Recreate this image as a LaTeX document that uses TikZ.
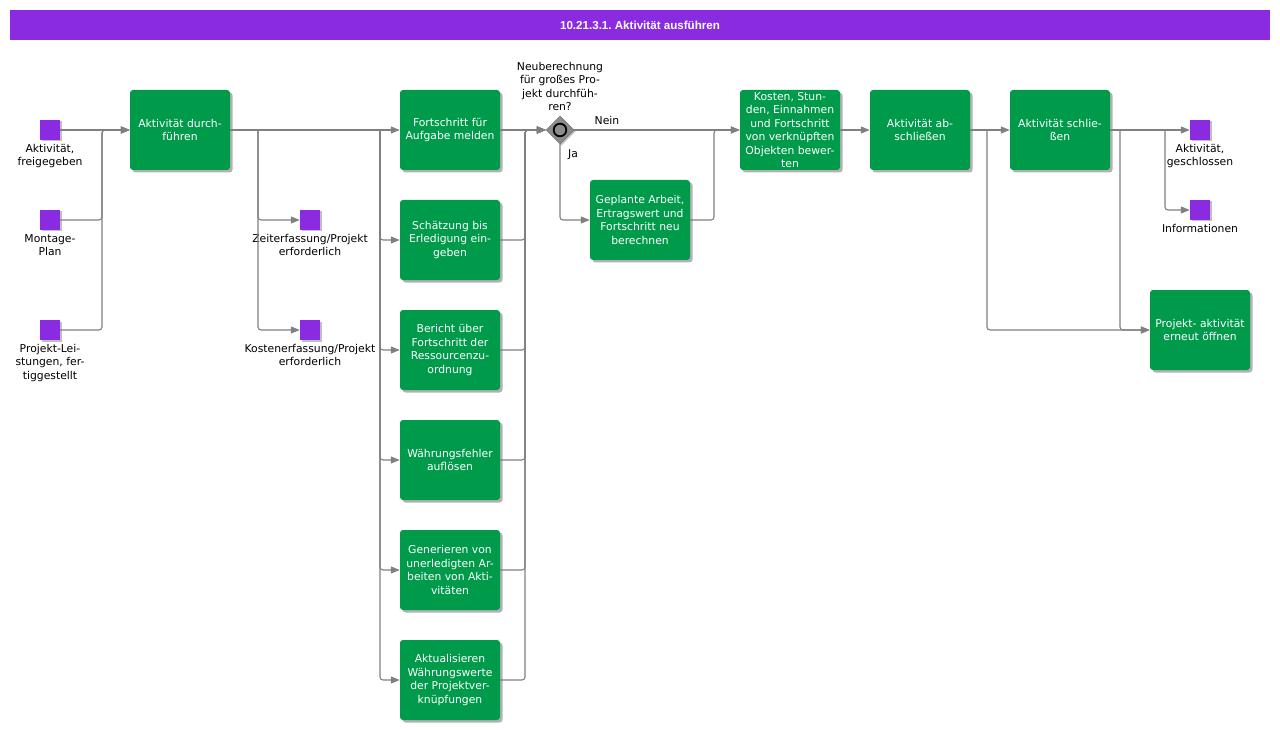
\documentclass[tikz,border=0pt]{standalone}
\usepackage{fontspec}
\setmainfont{DejaVu Sans}
\newfontfamily\titlefont{Liberation Sans}
\usetikzlibrary{arrows.meta,shadows,shapes.geometric}
\definecolor{tgreen}{HTML}{009A4B}
\definecolor{evpurple}{HTML}{8A2BE2}
\definecolor{lgray}{HTML}{808080}
\definecolor{gwgray}{HTML}{8C8C8C}
\frenchspacing
\begin{document}
\begin{tikzpicture}[x=1pt,y=-1pt,
  txt/.style={font=\fontsize{10.8}{13.5}\selectfont},
  task/.style={rectangle, rounded corners=3pt, fill=tgreen, text=white, minimum width=100pt, minimum height=80pt, inner sep=1pt, align=center, txt,
    drop shadow={shadow xshift=2.5pt,shadow yshift=-2.5pt,opacity=0.3,fill=black}},
  evt/.style={rectangle, fill=evpurple, minimum size=20pt, inner sep=0pt,
    drop shadow={shadow xshift=1.5pt,shadow yshift=-1.5pt,opacity=0.25,fill=black}},
  lbl/.style={txt, align=center, inner sep=0pt, text=black},
  flow/.style={draw=lgray, line width=1.1pt, rounded corners=3pt, -{Triangle[length=9pt,width=7pt]}},
]
\useasboundingbox (0,0) rectangle (1280,730);
% title
\node[fill=evpurple, minimum width=1260pt, minimum height=30pt, inner sep=0pt, text=white,
  font=\titlefont\bfseries\fontsize{11.6}{13}\selectfont] (title) at (640,25) {10.21.3.1. Aktivität ausführen};

% events
\node[evt] (e1) at (50,130) {};
\node[evt] (e2) at (50,220) {};
\node[evt] (e3) at (50,330) {};
\node[evt] (z1) at (310,220) {};
\node[evt] (z2) at (310,330) {};
\node[evt] (x1) at (1200,130) {};
\node[evt] (x2) at (1200,210) {};
\node[lbl, anchor=north] (le1) at (50,144) {Aktivität,\\freigegeben};
\node[lbl, anchor=north] (le2) at (50,234) {Montage-\\Plan};
\node[lbl, anchor=north] (le3) at (50,344) {Projekt-Lei-\\stungen, fer-\\tiggestellt};
\node[lbl, anchor=north] (lz1) at (310,234) {Zeiterfassung/Projekt\\erforderlich};
\node[lbl, anchor=north] (lz2) at (310,344) {Kostenerfassung/Projekt\\erforderlich};
\node[lbl, anchor=north] (lx1) at (1200,144) {Aktivität,\\geschlossen};
\node[lbl, anchor=north] (lx2) at (1200,224) {Informationen};

% tasks
\node[task] (a1) at (180,130) {Aktivität durch-\\führen};
\node[task] (f1) at (450,130) {Fortschritt für\\Aufgabe melden};
\node[task] (f2) at (450,240) {Schätzung bis\\Erledigung ein-\\geben};
\node[task] (f3) at (450,350) {Bericht über\\Fortschritt der\\Ressourcenzu-\\ordnung};
\node[task] (f4) at (450,460) {Währungsfehler\\auflösen};
\node[task] (f5) at (450,570) {Generieren von\\unerledigten Ar-\\beiten von Akti-\\vitäten};
\node[task] (f6) at (450,680) {Aktualisieren\\Währungswerte\\der Projektver-\\knüpfungen};
\node[task] (g1) at (640,220) {Geplante Arbeit,\\Ertragswert und\\Fortschritt neu\\berechnen};
\node[task] (k1) at (790,130) {Kosten, Stun-\\den, Einnahmen\\und Fortschritt\\von verknüpften\\Objekten bewer-\\ten};
\node[task] (ab) at (920,130) {Aktivität ab-\\schließen};
\node[task] (sc) at (1060,130) {Aktivität schlie-\\ßen};
\node[task] (ro) at (1200,330) {Projekt- aktivität\\erneut öffnen};

% gateway
\node[diamond, aspect=1, fill=gwgray, draw=gwgray!80!black, line width=0.5pt, minimum width=28pt, minimum height=28pt, inner sep=0pt,
  drop shadow={shadow xshift=1.5pt,shadow yshift=-1.5pt,opacity=0.25,fill=black}] (gw) at (560,130) {};
\draw[line width=1.8pt, fill=gwgray] (gw.center) circle (6.3);
\node[lbl, anchor=south] (lgw) at (560,111) {Neuberechnung\\für großes Pro-\\jekt durchfüh-\\ren?};

% junction coordinates
\coordinate (j1) at (102,130);
\coordinate (b1) at (258,130);
\coordinate (b2) at (380,130);
\coordinate (m1) at (525,130);
\coordinate (m2) at (714,130);
\coordinate (m3) at (987,130);
\coordinate (m4) at (1120,130);
\coordinate (m5) at (1165,130);

% connectors
\draw[flow] (e1.east) -- (a1.west);
\draw[flow] (e2.east) -| (j1) -- (a1.west);
\draw[flow] (e3.east) -| (j1) -- (a1.west);
\draw[flow] (a1.east) -- (f1.west);
\draw[flow] (b1) |- (z1.west);
\draw[flow] (b1) |- (z2.west);
\draw[flow] (b2) |- (f2.west);
\draw[flow] (b2) |- (f3.west);
\draw[flow] (b2) |- (f4.west);
\draw[flow] (b2) |- (f5.west);
\draw[flow] (b2) |- (f6.west);
\draw[flow] (f1.east) -- (gw.west);
\draw[flow] (f2.east) -| (m1) -- (gw.west);
\draw[flow] (f3.east) -| (m1) -- (gw.west);
\draw[flow] (f4.east) -| (m1) -- (gw.west);
\draw[flow] (f5.east) -| (m1) -- (gw.west);
\draw[flow] (f6.east) -| (m1) -- (gw.west);
\draw[flow] (gw.east) -- (k1.west);
\node[lbl] (lnein) at (607,120) {Nein};
\draw[flow] (gw.south) |- (g1.west);
\node[lbl] (lja) at (573,155) {Ja};
\draw[flow] (g1.east) -| (m2) -- (k1.west);
\draw[flow] (k1.east) -- (ab.west);
\draw[flow] (ab.east) -- (sc.west);
\draw[flow] (m3) |- (ro.west);
\draw[flow] (m4) |- (ro.west);
\draw[flow] (sc.east) -- (x1.west);
\draw[flow] (m5) |- (x2.west);
\end{tikzpicture}
\end{document}
